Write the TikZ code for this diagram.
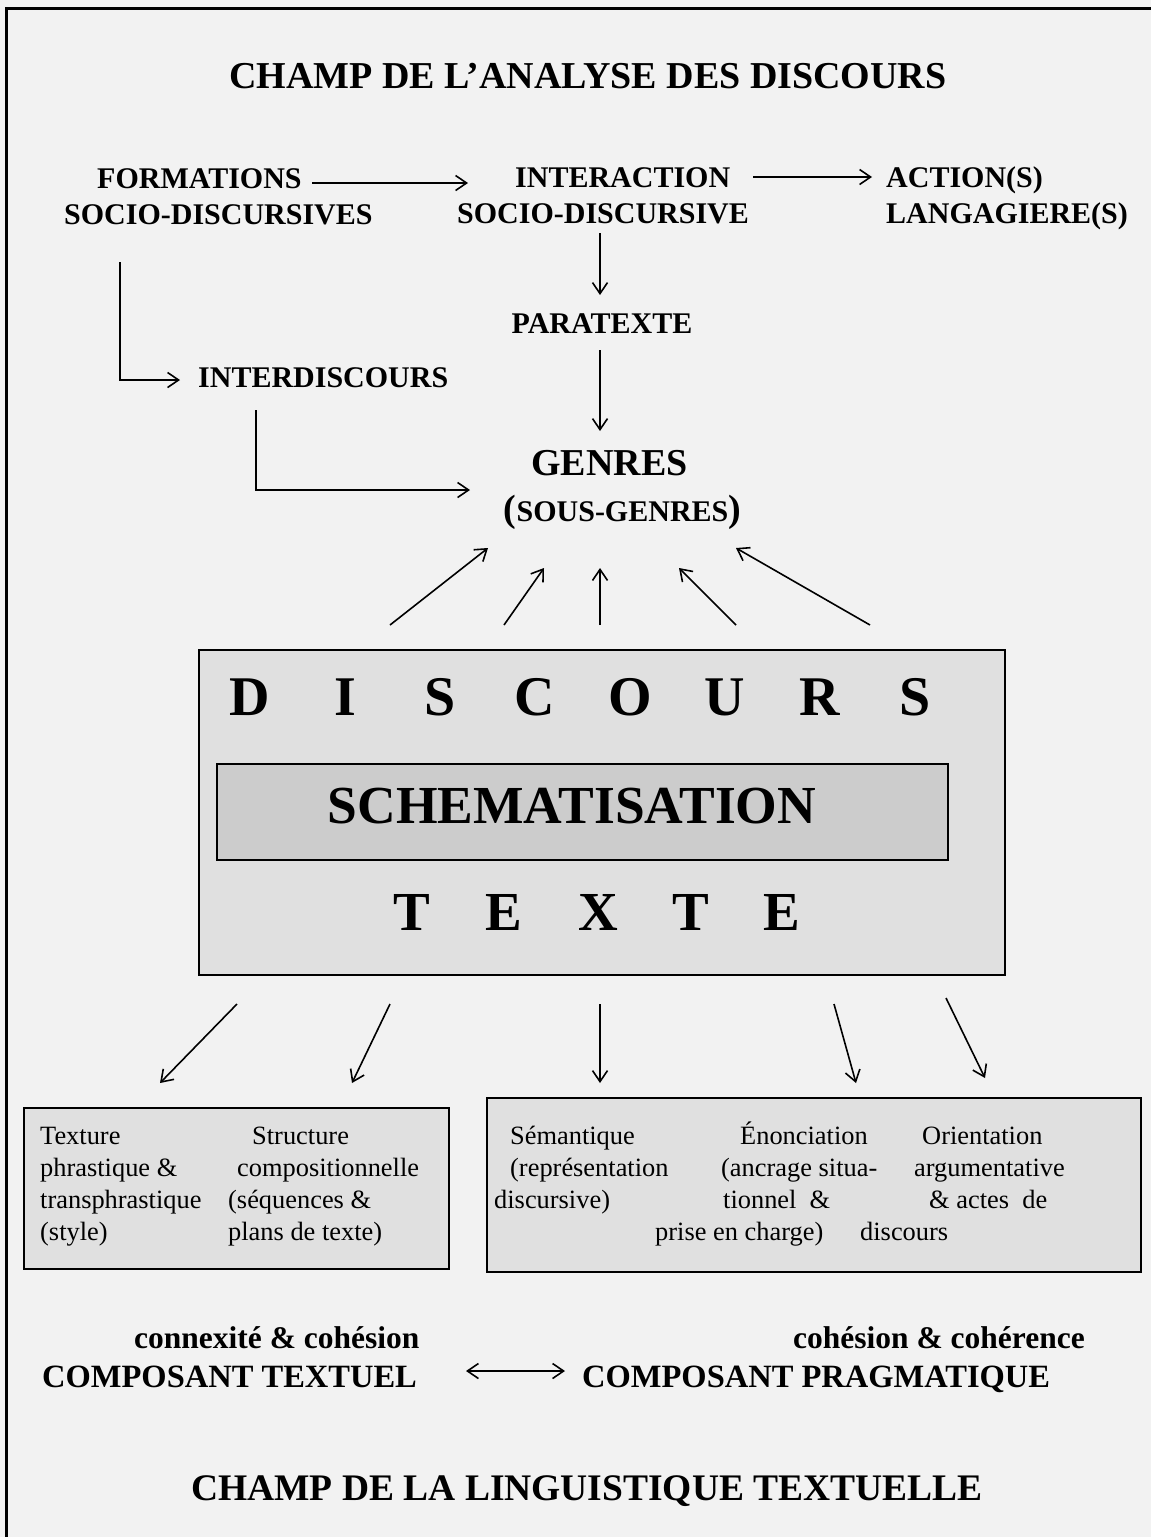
\documentclass[tikz,border=0pt]{standalone}
\usepackage{fontspec}
\setmainfont{Liberation Serif}
\usetikzlibrary{arrows.meta}
\newcommand\fsz[1]{\fontsize{#1}{#1}\selectfont}
\definecolor{pagebg}{HTML}{F2F2F2}
\definecolor{boxbg}{HTML}{E0E0E0}
\definecolor{innerbg}{HTML}{CCCCCC}

\begin{document}
\begin{tikzpicture}[x=1pt,y=-1pt,
  arr/.style={line width=1.6pt,-{Straight Barb[length=11pt,width=15pt,line width=1.6pt]}},
  darr/.style={line width=1.6pt,{Straight Barb[length=11pt,width=15pt,line width=1.6pt]}-{Straight Barb[length=11pt,width=15pt,line width=1.6pt]}},
  bigtitle/.style={font=\bfseries\fsz{38}, inner sep=0pt, anchor=base},
  lbl/.style={font=\bfseries\fsz{30}, inner sep=0pt, anchor=base west},
  lblc/.style={font=\bfseries\fsz{30}, inner sep=0pt, anchor=base},
  comp/.style={font=\bfseries\fsz{32.5}, inner sep=0pt, anchor=base west},
  sub/.style={font=\bfseries\fsz{31.5}, inner sep=0pt, anchor=base west},
  spaced/.style={font=\bfseries\fsz{56}, inner sep=0pt, anchor=base},
  body/.style={font=\fsz{26.4}, inner sep=0pt, anchor=base west},
  panel/.style={draw, line width=2pt, fill=boxbg, anchor=north west, inner sep=0pt}
]
% page and frame
\fill[pagebg] (0,0) rectangle (1151,1537);
\useasboundingbox (0,0) rectangle (1151,1537);
\draw[line width=3pt] (6,1540) -- (6,8) -- (1154,8);

% titles
\node[bigtitle] (ttop) at (588,88) {CHAMP DE L’ANALYSE DES DISCOURS};
\node[bigtitle, font=\bfseries\fsz{37.5}] (tbot) at (587,1500) {CHAMP DE LA LINGUISTIQUE TEXTUELLE};

% upper labels
\node[lbl] (fo1) at (97,188) {FORMATIONS};
\node[lbl] (fo2) at (64,224) {SOCIO-DISCURSIVES};
\node[lbl] (in1) at (515,187) {INTERACTION};
\node[lbl] (in2) at (457,223) {SOCIO-DISCURSIVE};
\node[lbl] (ac1) at (886,187) {ACTION(S)};
\node[lbl] (ac2) at (886,223) {LANGAGIERE(S)};
\node[lblc] (para) at (602,333) {PARATEXTE};
\node[lbl] (idisc) at (198,387) {INTERDISCOURS};
\node[bigtitle] (genres) at (609.5,475) {GENRES};
\node[lblc] (sgenres) at (622.5,521) {{\fsz{38}(}SOUS-GENRES{\fsz{38})}};

% arrow end points
\coordinate (foE) at (312,183);  \coordinate (inW) at (468,183);
\coordinate (inE) at (753,177);  \coordinate (acW) at (872,177);
\coordinate (inS) at (600,233);  \coordinate (paN) at (600,295);
\coordinate (paS) at (600,350);  \coordinate (geN) at (600,431);
\coordinate (foS) at (120,262);  \coordinate (foC) at (120,380); \coordinate (idW) at (180,380);
\coordinate (idS) at (256,410);  \coordinate (idC) at (256,490); \coordinate (geW) at (470,490);

\draw[arr] (foE) -- (inW);
\draw[arr] (inE) -- (acW);
\draw[arr] (inS) -- (paN);
\draw[arr] (paS) -- (geN);
\draw[arr] (foS) -- (foC) -- (idW);
\draw[arr] (idS) -- (idC) -- (geW);

% discourse / text panel
\node[panel, minimum width=806pt, minimum height=325pt] (disc) at (198,649) {};
\node[panel, fill=innerbg, minimum width=731pt, minimum height=96pt] (schem) at (216,763) {};
\node[spaced, font=\bfseries\fsz{53.5}] (schemtxt) at (572,823) {SCHEMATISATION};
\foreach \ch [count=\i] in {D,I,S,C,O,U,R,S}
  \node[spaced] (dl\i) at ({250+95*(\i-1)},715) {\ch};
\foreach \ch/\xx [count=\i] in {T/412,E/504,X/598,T/691,E/782}
  \node[spaced, font=\bfseries\fsz{55}] (tl\i) at (\xx,930) {\ch};

% arrows up to the genres
\coordinate (u1a) at (390,625); \coordinate (u1b) at (488,548);
\coordinate (u2a) at (504,625); \coordinate (u2b) at (544,568);
\coordinate (u3a) at (600,625); \coordinate (u3b) at (600,568);
\coordinate (u4a) at (736,625); \coordinate (u4b) at (679,568);
\coordinate (u5a) at (870,625); \coordinate (u5b) at (736,548);
\foreach \k in {1,...,5} \draw[arr] (u\k a) -- (u\k b);

% arrows down to the components
\coordinate (d1a) at (237,1004); \coordinate (d1b) at (160,1083);
\coordinate (d2a) at (390,1004); \coordinate (d2b) at (352,1083);
\coordinate (d3a) at (600,1004); \coordinate (d3b) at (600,1083);
\coordinate (d4a) at (834,1004); \coordinate (d4b) at (856,1083);
\coordinate (d5a) at (946,998);  \coordinate (d5b) at (985,1078);
\foreach \k in {1,...,5} \draw[arr] (d\k a) -- (d\k b);

% lower panels
\node[panel, minimum width=425pt, minimum height=161pt] (lbox) at (23,1107) {};
\node[panel, minimum width=654pt, minimum height=174pt] (rbox) at (486,1097) {};

\node[body] (l11) at (40,1144) {Texture};
\node[body] (l12) at (40,1176) {phrastique \&};
\node[body] (l13) at (40,1208) {transphrastique};
\node[body] (l14) at (40,1240) {(style)};
\node[body] (l21) at (252,1144) {Structure};
\node[body] (l22) at (237,1176) {compositionnelle};
\node[body] (l23) at (228,1208) {(séquences \&};
\node[body] (l24) at (228,1240) {plans de texte)};

\node[body] (r11) at (510,1144) {Sémantique};
\node[body] (r12) at (510,1176) {(représentation};
\node[body] (r13) at (494,1208) {discursive)};
\node[body] (r21) at (740,1144) {Énonciation};
\node[body] (r22) at (721,1176) {(ancrage situa-};
\node[body] (r23) at (723,1208) {tionnel\ \ \&};
\node[body] (r24) at (655,1240) {prise en charge)};
\node[body] (r31) at (922,1144) {Orientation};
\node[body] (r32) at (914,1176) {argumentative};
\node[body] (r33) at (929,1208) {\&\ actes\ \ de};
\node[body] (r34) at (860,1240) {discours};

% components
\node[sub] (ctsub) at (134,1348) {connexité \& cohésion};
\node[sub] (cpsub) at (793,1348) {cohésion \& cohérence};
\node[comp] (ct) at (42,1387) {COMPOSANT TEXTUEL};
\node[comp] (cp) at (582,1387) {COMPOSANT PRAGMATIQUE};
\coordinate (ctE) at (466,1371); \coordinate (cpW) at (565,1371);
\draw[darr] (ctE) -- (cpW);
\end{tikzpicture}
\end{document}
